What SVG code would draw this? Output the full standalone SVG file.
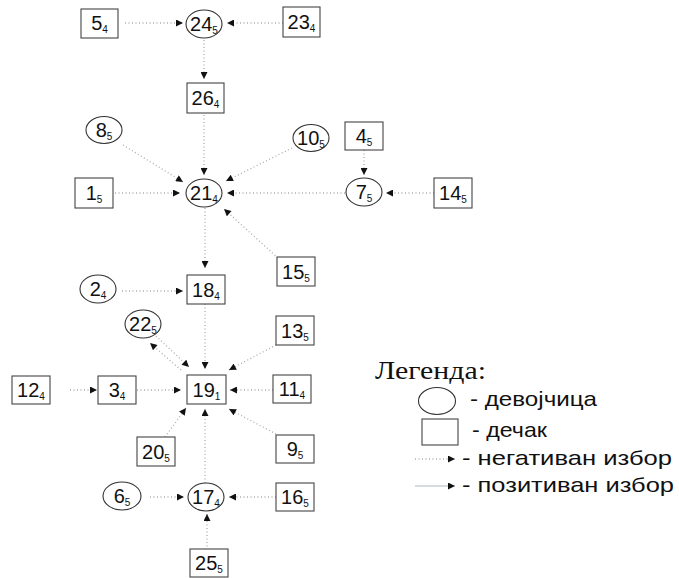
<svg xmlns="http://www.w3.org/2000/svg" width="679" height="578" viewBox="0 0 679 578">
<defs>
<marker id="ah" viewBox="0 0 10 10" refX="10" refY="5" markerWidth="8" markerHeight="7" markerUnits="userSpaceOnUse" orient="auto">
<path d="M0,0 L10,5 L0,10 z" fill="#111"/>
</marker>
<style>
.g ellipse{fill:#fff;stroke:#333;stroke-width:1.1}
.b rect{fill:#fff;stroke:#444;stroke-width:1.1}
.lbl{font-family:"Liberation Sans",Arial,sans-serif;font-size:20px;fill:#111;text-anchor:middle}
.sub{font-size:10px}
.c line{stroke:#aaaaaa;stroke-width:1.3;stroke-dasharray:1 2.5;fill:none;marker-end:url(#ah)}
.lg{font-family:"Liberation Sans",Arial,sans-serif;font-size:21px;fill:#111}
</style>
</defs>
<rect width="679" height="578" fill="#fff"/>

<g id="connectors" class="c">
<line x1="125" y1="23" x2="183" y2="23"/>
<line x1="283" y1="23" x2="227" y2="23"/>
<line x1="204" y1="40" x2="204" y2="79"/>
<line x1="204" y1="115" x2="204" y2="175"/>
<line x1="123" y1="145" x2="183" y2="182"/>
<line x1="292" y1="148" x2="226" y2="181"/>
<line x1="115" y1="193" x2="180" y2="193"/>
<line x1="345" y1="193" x2="227" y2="193"/>
<line x1="278" y1="258" x2="224" y2="209"/>
<line x1="364" y1="150" x2="364" y2="175"/>
<line x1="434" y1="193" x2="386" y2="193"/>
<line x1="205" y1="208" x2="205" y2="268"/>
<line x1="122" y1="291" x2="183" y2="291"/>
<line x1="205" y1="304" x2="205" y2="369"/>
<line x1="156" y1="336" x2="189" y2="367"/>
<line x1="181" y1="370" x2="150" y2="343"/>
<line x1="276" y1="345" x2="229" y2="370"/>
<line x1="137" y1="390" x2="181" y2="390"/>
<line x1="70" y1="390" x2="97" y2="390"/>
<line x1="273" y1="390" x2="230" y2="390"/>
<line x1="165" y1="437" x2="186" y2="408"/>
<line x1="205" y1="483" x2="205" y2="409"/>
<line x1="276" y1="434" x2="229" y2="409"/>
<line x1="150" y1="497" x2="184" y2="497"/>
<line x1="276" y1="497" x2="229" y2="497"/>
<line x1="207" y1="550" x2="207" y2="514"/>
</g>

<g id="n5" class="b"><rect x="81" y="9" width="37" height="29"/><text class="lbl" x="99.5" y="30">5<tspan class="sub" dy="3">4</tspan></text></g>
<g id="n24" class="g"><ellipse cx="204" cy="24" rx="18" ry="14"/><text class="lbl" x="204" y="31">24<tspan class="sub" dy="3">5</tspan></text></g>
<g id="n23" class="b"><rect x="283" y="7" width="37" height="30"/><text class="lbl" x="301.5" y="29">23<tspan class="sub" dy="3">4</tspan></text></g>
<g id="n26" class="b"><rect x="187" y="83" width="37" height="30"/><text class="lbl" x="205.5" y="105">26<tspan class="sub" dy="3">4</tspan></text></g>
<g id="n8" class="g"><ellipse cx="104" cy="130" rx="18" ry="13.5"/><text class="lbl" x="104" y="137">8<tspan class="sub" dy="3">5</tspan></text></g>
<g id="n10" class="g"><ellipse cx="311" cy="138" rx="18" ry="13.5"/><text class="lbl" x="311" y="145">10<tspan class="sub" dy="3">5</tspan></text></g>
<g id="n4" class="b"><rect x="345" y="122" width="38" height="28"/><text class="lbl" x="364" y="142.5">4<tspan class="sub" dy="3">5</tspan></text></g>
<g id="n1" class="b"><rect x="75" y="178" width="38" height="30"/><text class="lbl" x="94" y="200">1<tspan class="sub" dy="3">5</tspan></text></g>
<g id="n21" class="g"><ellipse cx="204" cy="193" rx="18" ry="14"/><text class="lbl" x="204" y="200">21<tspan class="sub" dy="3">4</tspan></text></g>
<g id="n7" class="g"><ellipse cx="364" cy="192" rx="18" ry="14"/><text class="lbl" x="364" y="199">7<tspan class="sub" dy="3">5</tspan></text></g>
<g id="n14" class="b"><rect x="434" y="178" width="38" height="30"/><text class="lbl" x="453" y="200">14<tspan class="sub" dy="3">5</tspan></text></g>
<g id="n15" class="b"><rect x="277" y="257" width="38" height="29"/><text class="lbl" x="296" y="278.5">15<tspan class="sub" dy="3">5</tspan></text></g>
<g id="n2" class="g"><ellipse cx="98" cy="289" rx="18" ry="14"/><text class="lbl" x="98" y="296">2<tspan class="sub" dy="3">4</tspan></text></g>
<g id="n18" class="b"><rect x="187" y="275" width="38" height="29"/><text class="lbl" x="206" y="296.5">18<tspan class="sub" dy="3">4</tspan></text></g>
<g id="n22" class="g"><ellipse cx="143" cy="324" rx="18" ry="14"/><text class="lbl" x="143" y="331">22<tspan class="sub" dy="3">5</tspan></text></g>
<g id="n13" class="b"><rect x="276" y="316" width="38" height="29"/><text class="lbl" x="295" y="337.5">13<tspan class="sub" dy="3">5</tspan></text></g>
<g id="n12" class="b"><rect x="12" y="376" width="38" height="28"/><text class="lbl" x="31" y="397">12<tspan class="sub" dy="3">4</tspan></text></g>
<g id="n3" class="b"><rect x="98" y="376" width="38" height="28"/><text class="lbl" x="117" y="397">3<tspan class="sub" dy="3">4</tspan></text></g>
<g id="n19" class="b"><rect x="187" y="375" width="39" height="29"/><text class="lbl" x="206.5" y="396.5">19<tspan class="sub" dy="3">1</tspan></text></g>
<g id="n11" class="b"><rect x="273" y="375" width="38" height="28"/><text class="lbl" x="292" y="396">11<tspan class="sub" dy="3">4</tspan></text></g>
<g id="n20" class="b"><rect x="137" y="437" width="38" height="29"/><text class="lbl" x="156" y="458.5">20<tspan class="sub" dy="3">5</tspan></text></g>
<g id="n9" class="b"><rect x="276" y="435" width="38" height="28"/><text class="lbl" x="295" y="456">9<tspan class="sub" dy="3">5</tspan></text></g>
<g id="n6" class="g"><ellipse cx="122" cy="496" rx="19" ry="14"/><text class="lbl" x="122" y="503">6<tspan class="sub" dy="3">5</tspan></text></g>
<g id="n17" class="g"><ellipse cx="206" cy="497" rx="18" ry="14"/><text class="lbl" x="206" y="504">17<tspan class="sub" dy="3">4</tspan></text></g>
<g id="n16" class="b"><rect x="276" y="483" width="38" height="28"/><text class="lbl" x="295" y="504">16<tspan class="sub" dy="3">5</tspan></text></g>
<g id="n25" class="b"><rect x="190" y="549" width="38" height="28"/><text class="lbl" x="209" y="570">25<tspan class="sub" dy="3">5</tspan></text></g>

<g id="legend">
<text x="375" y="379" font-family="'Liberation Serif','Times New Roman',serif" font-size="25" fill="#111" textLength="111" lengthAdjust="spacingAndGlyphs">Легенда:</text>
<ellipse cx="437" cy="401" rx="18.5" ry="13.5" fill="#fff" stroke="#333" stroke-width="1.1"/>
<text class="lg" x="470" y="406" textLength="127" lengthAdjust="spacingAndGlyphs">- девојчица</text>
<rect x="422" y="419" width="36" height="26" fill="#fff" stroke="#444" stroke-width="1.1"/>
<text class="lg" x="472" y="437" textLength="75" lengthAdjust="spacingAndGlyphs">- дечак</text>
<line x1="415" y1="459" x2="455" y2="459" stroke="#aaaaaa" stroke-width="1.3" stroke-dasharray="1 2.5" marker-end="url(#ah)"/>
<text class="lg" x="462" y="465" textLength="210" lengthAdjust="spacingAndGlyphs">- негативан избор</text>
<line x1="415" y1="486" x2="455" y2="486" stroke="#b0b8c4" stroke-width="1" marker-end="url(#ah)"/>
<text class="lg" x="462" y="492" textLength="212" lengthAdjust="spacingAndGlyphs">- позитиван избор</text>
</g>
</svg>
